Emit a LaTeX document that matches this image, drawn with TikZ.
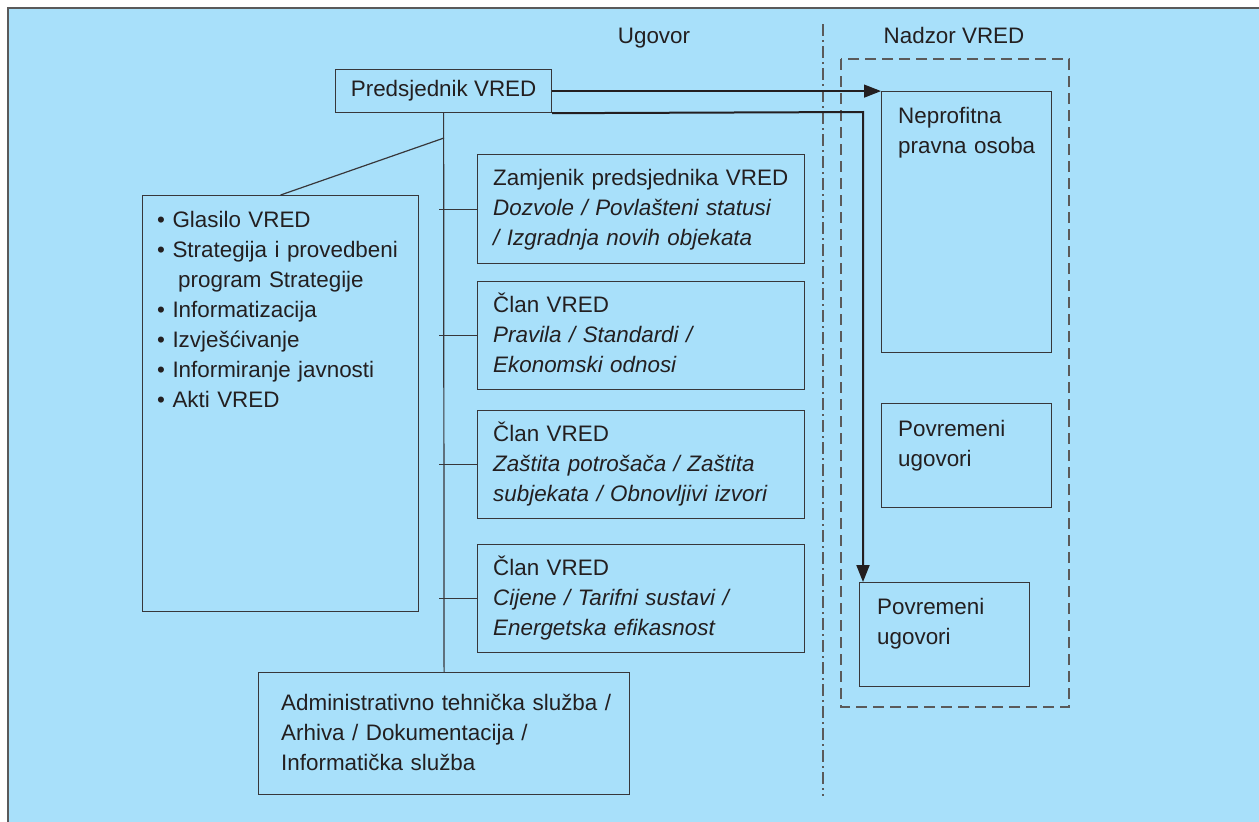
\documentclass[tikz,border=0pt]{standalone}
\usepackage{fontspec}
\setmainfont{Liberation Sans}
\usetikzlibrary{arrows.meta}
\definecolor{bgblue}{RGB}{168,224,250}
\definecolor{ink}{RGB}{35,31,32}
\definecolor{frame}{RGB}{55,55,58}
\definecolor{edge}{RGB}{90,90,90}
\begin{document}
\begin{tikzpicture}[x=1pt,y=-1pt,
  box/.style={draw=frame, line width=1.2pt, inner sep=0pt, anchor=north west},
  txt/.style={inner sep=0pt, anchor=base west, align=left, text=ink, text width=#1,
    font=\fontsize{22.4}{30}\selectfont},
  txt/.default=340pt,
  hdr/.style={inner sep=0pt, anchor=base, text=ink, font=\fontsize{22.4}{30}\selectfont},
  conn/.style={draw=frame, line width=1.2pt},
  arr/.style={draw=ink, line width=1.3pt, -{Triangle[length=17pt,width=13pt]}},
  arrthick/.style={draw=ink, line width=2pt, -{Triangle[length=17pt,width=13pt]}},
  dashdotline/.style={draw=edge, line width=1.2pt, dash pattern=on 12pt off 4pt on 2pt off 4pt},
  dashline/.style={draw=edge, line width=1.3pt, dash pattern=on 11pt off 6pt}]
\useasboundingbox (0,0) rectangle (1259,822);
\fill[bgblue] (8,8) rectangle (1259,822);
\draw[edge, line width=1.6pt] (8,822) -- (8,8) -- (1259,8);

% headers and zone lines
\node[hdr] (ug) at (654,43) {Ugovor};
\node[hdr] (nad) at (954,43) {Nadzor VRED};
\draw[dashdotline] (823,24) -- (823,796);
\draw[dashline] (841,59) rectangle (1069,707);

% boxes
\node[box, minimum width=216pt, minimum height=43pt, text=ink, font=\fontsize{22.4}{30}\selectfont] (pres) at (335,69) {Predsjednik VRED};
\node[box, minimum width=276pt, minimum height=416pt] (bul) at (142,195) {};
\node[box, minimum width=327pt, minimum height=109pt] (b1) at (477,154) {};
\node[box, minimum width=327pt, minimum height=108pt] (b2) at (477,281) {};
\node[box, minimum width=327pt, minimum height=108pt] (b3) at (477,410) {};
\node[box, minimum width=327pt, minimum height=108pt] (b4) at (477,544) {};
\node[box, minimum width=371pt, minimum height=122pt] (adm) at (258,672) {};
\node[box, minimum width=170pt, minimum height=261pt] (nep) at (881,91) {};
\node[box, minimum width=170pt, minimum height=104pt] (pov1) at (881,403) {};
\node[box, minimum width=170pt, minimum height=104pt] (pov2) at (859,582) {};

% texts
\node[txt] (bult) at (157,227) {\textbullet\ Glasilo VRED\\
\textbullet\ Strategija i provedbeni\\
\hspace*{21pt}program Strategije\\
\textbullet\ Informatizacija\\
\textbullet\ Izvješćivanje\\
\textbullet\ Informiranje javnosti\\
\textbullet\ Akti VRED};
\node[txt] (b1t) at (493,185) {Zamjenik predsjednika VRED\\
\textit{Dozvole / Povlašteni statusi}\\
\textit{/ Izgradnja novih objekata}};
\node[txt] (b2t) at (493,312) {Član VRED\\
\textit{Pravila / Standardi /}\\
\textit{Ekonomski odnosi}};
\node[txt] (b3t) at (493,441) {Član VRED\\
\textit{Zaštita potrošača / Zaštita}\\
\textit{subjekata / Obnovljivi izvori}};
\node[txt] (b4t) at (493,575) {Član VRED\\
\textit{Cijene / Tarifni sustavi /}\\
\textit{Energetska efikasnost}};
\node[txt=360pt] (admt) at (281,710) {Administrativno tehnička služba /\\
Arhiva / Dokumentacija /\\
Informatička služba};
\node[txt=160pt] (nept) at (898,123) {Neprofitna\\pravna osoba};
\node[txt=160pt] (pov1t) at (898,436) {Povremeni\\ugovori};
\node[txt=160pt] (pov2t) at (877,614) {Povremeni\\ugovori};

% connectors
\draw[conn] (pres.south) -- (adm.north);
\coordinate (jd) at (444,138);
\draw[conn] (jd) -- (bul.north);
\foreach \b in {b1,b2,b3,b4} {
  \draw[conn] (\b.west) -- ++(-38,0);
}
\draw[arr] (pres.east) -- (pres.east -| nep.west);
\coordinate (kk) at (863,112);
\draw[arrthick] (pres.south east) -- (kk) -- (kk |- pov2.north);
\end{tikzpicture}
\end{document}
